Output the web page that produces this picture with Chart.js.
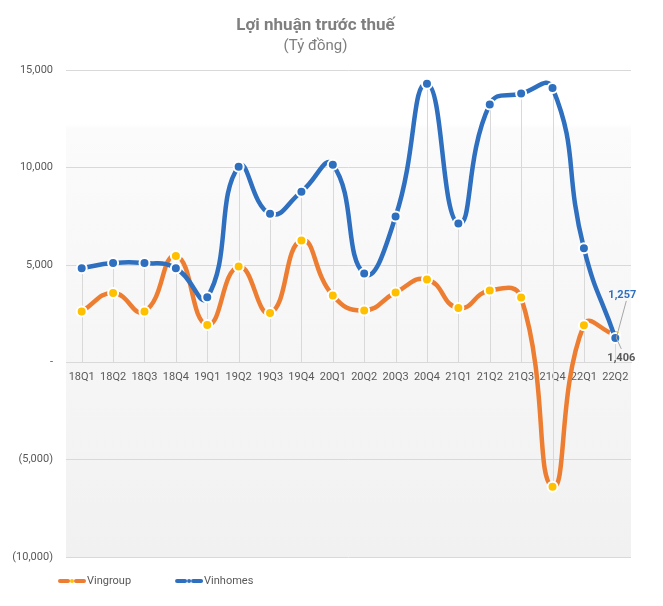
<!DOCTYPE html>
<html>
<head>
<meta charset="utf-8">
<script src="https://cdn.jsdelivr.net/npm/chart.js@4.4.0/dist/chart.umd.min.js"></script>
<style>
html,body{margin:0;padding:0;background:#fff;}
#wrap{width:663px;height:606px;position:relative;}
</style>
</head>
<body>
<div id="wrap"><canvas id="c" width="663" height="606"></canvas></div>
<script>
const categories = ['18Q1','18Q2','18Q3','18Q4','19Q1','19Q2','19Q3','19Q4','20Q1','20Q2','20Q3','20Q4','21Q1','21Q2','21Q3','21Q4','22Q1','22Q2'];
const vingroup = [2615, 3560, 2615, 5470, 1920, 4920, 2530, 6260, 3440, 2670, 3590, 4260, 2790, 3690, 3330, -6390, 1910, 1406];
const vinhomes = [4840, 5100, 5100, 4840, 3340, 10050, 7640, 8770, 10150, 4560, 7490, 14320, 7130, 13250, 13810, 14100, 5860, 1257];
const yMin = -10000, yMax = 15000, yStep = 5000;
const titleText = 'Lợi nhuận trước thuế';
const subtitleText = '(Tỷ đồng)';

const ORANGE = '#ED7D31', YELLOW = '#FFC000', BLUE = '#2E6FBF';
const FONT = "Roboto, 'Noto Sans', sans-serif";
const GRAY = '#595959';

function fmt(v){
  if (v === 0) return '-';
  const s = Math.abs(v).toLocaleString('en-US');
  return v < 0 ? '(' + s + ')' : s;
}

const bgPlugin = {
  id: 'bg',
  beforeDraw(chart){
    const {ctx, chartArea:a} = chart;
    const g = ctx.createLinearGradient(0, a.top, 0, a.bottom);
    g.addColorStop(0, '#ffffff');
    g.addColorStop(0.11, '#ffffff');
    g.addColorStop(0.12, '#fbfbfb');
    g.addColorStop(1, '#f1f1f1');
    ctx.save();
    ctx.fillStyle = g;
    ctx.fillRect(a.left, a.top, a.right - a.left, a.bottom - a.top);
    ctx.restore();
  }
};

const dropPlugin = {
  id: 'drop',
  beforeDatasetsDraw(chart){
    const {ctx} = chart;
    const y0 = chart.scales.y.getPixelForValue(0);
    ctx.save();
    ctx.strokeStyle = '#d9d9d9';
    ctx.lineWidth = 1;
    chart.data.datasets.forEach((ds, i) => {
      chart.getDatasetMeta(i).data.forEach(pt => {
        const x = Math.round(pt.x) + 0.5;
        ctx.beginPath();
        ctx.moveTo(x, pt.y);
        ctx.lineTo(x, y0);
        ctx.stroke();
      });
    });
    ctx.restore();
  }
};

const labelPlugin = {
  id: 'lastLabels',
  afterDatasetsDraw(chart){
    const {ctx} = chart;
    const n = categories.length - 1;
    const pB = chart.getDatasetMeta(1).data[n];
    const pO = chart.getDatasetMeta(0).data[n];
    ctx.save();
    ctx.font = "bold 11px " + FONT;
    ctx.textAlign = 'center';
    ctx.textBaseline = 'middle';
    ctx.strokeStyle = '#a6a6a6';
    ctx.lineWidth = 1;
    ctx.beginPath();
    ctx.moveTo(pB.x + 11, pB.y - 37);
    ctx.lineTo(pB.x + 1, pB.y);
    ctx.lineTo(pB.x + 6, pB.y + 11);
    ctx.stroke();
    ctx.fillStyle = BLUE;
    ctx.fillText(fmt(vinhomes[n]), pB.x + 7, pB.y - 43);
    ctx.fillStyle = GRAY;
    ctx.fillText(fmt(vingroup[n]), pO.x + 6, pO.y + 23);
    ctx.restore();
  }
};

const legendPlugin = {
  id: 'customLegend',
  afterDraw(chart){
    const {ctx} = chart;
    const y = 581;
    let x = 58;
    ctx.save();
    ctx.font = "11px " + FONT;
    ctx.textBaseline = 'middle';
    ctx.textAlign = 'left';
    chart.data.datasets.forEach(ds => {
      ctx.strokeStyle = ds.borderColor;
      ctx.lineWidth = 4;
      ctx.lineCap = 'round';
      ctx.beginPath(); ctx.moveTo(x + 2, y); ctx.lineTo(x + 10, y); ctx.stroke();
      ctx.beginPath(); ctx.moveTo(x + 18, y); ctx.lineTo(x + 26, y); ctx.stroke();
      ctx.fillStyle = ds.pointBackgroundColor;
      ctx.beginPath(); ctx.arc(x + 14, y, 2, 0, Math.PI * 2); ctx.fill();
      ctx.fillStyle = GRAY;
      ctx.fillText(ds.label, x + 29, y);
      x += 29 + ctx.measureText(ds.label).width + 44;
    });
    ctx.restore();
  }
};

new Chart(document.getElementById('c'), {
  type: 'line',
  data: {
    labels: categories,
    datasets: [
      {
        label: 'Vingroup', data: vingroup, order: 2,
        borderColor: ORANGE, borderWidth: 4.5, tension: 0.5,
        pointRadius: 5, pointBorderWidth: 2, pointBorderColor: '#ffffff',
        pointBackgroundColor: YELLOW
      },
      {
        label: 'Vinhomes', data: vinhomes, order: 1,
        borderColor: BLUE, borderWidth: 4.5, tension: 0.5,
        pointRadius: 5, pointBorderWidth: 2, pointBorderColor: '#ffffff',
        pointBackgroundColor: BLUE
      }
    ]
  },
  options: {
    responsive: false,
    animation: false,
    events: [],
    layout: { padding: { left: 0, right: 32, bottom: 49, top: 0 } },
    plugins: {
      legend: { display: false },
      tooltip: { enabled: false },
      title: {
        display: true, text: titleText, color: '#7f7f7f',
        font: { family: FONT, size: 17, weight: 'bold', lineHeight: 1.2 },
        padding: { top: 16, bottom: 0 }
      },
      subtitle: {
        display: true, text: subtitleText, color: '#7f7f7f',
        font: { family: FONT, size: 15, weight: 'normal', lineHeight: 1.2 },
        padding: { top: 1, bottom: 15 }
      }
    },
    scales: {
      x: {
        type: 'category', offset: true,
        position: { y: 0 },
        grid: { display: false, drawTicks: false },
        border: { display: true, color: '#d9d9d9', width: 1 },
        ticks: { color: GRAY, font: { family: FONT, size: 11 }, padding: 8, maxRotation: 0, autoSkip: false }
      },
      y: {
        min: yMin, max: yMax,
        afterFit(scale){ scale.width = 66; },
        grid: { color: '#d9d9d9', drawTicks: false },
        border: { display: false },
        ticks: { stepSize: yStep, color: GRAY, font: { family: FONT, size: 11 }, padding: 13, callback: v => fmt(v) }
      }
    }
  },
  plugins: [bgPlugin, dropPlugin, labelPlugin, legendPlugin]
});
</script>
</body>
</html>
